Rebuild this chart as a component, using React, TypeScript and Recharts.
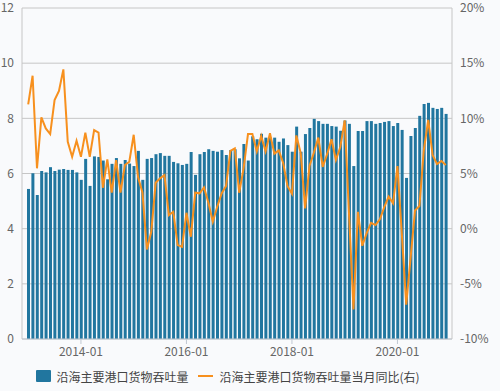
import {
  ComposedChart,
  Bar,
  Line,
  XAxis,
  YAxis,
  CartesianGrid,
  Legend,
} from 'recharts';

// monthly, 2013-01 .. 2020-12
const throughput = [
  5.44, 6.01, 5.22, 6.09, 6.04, 6.23, 6.09, 6.14, 6.16, 6.13, 6.13, 6.04,
  5.77, 6.53, 5.55, 6.62, 6.6, 6.47, 5.79, 6.35, 6.56, 6.35, 6.49, 6.36,
  6.27, 6.82, 5.77, 6.53, 6.56, 6.7, 6.74, 6.64, 6.64, 6.42, 6.37, 6.31,
  6.35, 6.78, 5.95, 6.7, 6.78, 6.88, 6.82, 6.79, 6.85, 6.67, 6.85, 6.88,
  6.55, 7.07, 6.47, 7.35, 7.24, 7.44, 7.3, 7.3, 7.3, 7.15, 7.27, 7.03,
  6.79, 7.7, 6.79, 7.43, 7.65, 7.98, 7.9, 7.8, 7.8, 7.72, 7.7, 7.55,
  7.92, 7.8, 6.27, 7.54, 7.54, 7.9, 7.9, 7.8, 7.83, 7.87, 7.9, 7.72,
  7.83, 7.58, 5.84, 7.36, 7.65, 8.09, 8.52, 8.56, 8.38, 8.34, 8.38, 8.16,
];

const yoy = [
  11.27, 13.86, 5.47, 10.09, 9.09, 8.58, 11.66, 12.48, 14.44, 7.88, 6.52, 7.97,
  6.52, 8.7, 6.52, 8.94, 8.7, 3.71, 6.28, 3.26, 6.22, 3.26, 5.77, 6.07,
  8.51, 4.65, 3.26, -1.88, -0.28, 4.16, 4.56, 4.86, 1.23, 1.53, -1.49, -1.64,
  1.44, -0.73, 3.26, 3.2, 3.74, 2.35, 0.63, 1.99, 3.2, 3.86, 7.06, 7.28,
  3.26, 5.47, 8.58, 8.58, 7.0, 8.4, 7.0, 8.65, 6.8, 7.1, 5.95, 3.85,
  3.17, 8.45, 6.85, 1.84, 5.68, 6.9, 8.25, 5.6, 6.75, 8.1, 6.22, 7.4,
  9.82, 1.2, -7.32, 1.53, -1.55, -0.4, 0.53, 0.33, 0.85, 1.95, 2.9, 2.3,
  5.68, -0.5, -6.88, -2.6, 1.65, 2.05, 7.13, 9.85, 6.67, 5.86, 6.13, 5.77,
];

const xTicks = ['2014-01', '2016-01', '2018-01', '2020-01'];
const leftTicks = [0, 2, 4, 6, 8, 10, 12];
const rightTicks = [-10, -5, 0, 5, 10, 15, 20];

const months = throughput.map((_, i) => {
  const y = 2013 + Math.floor(i / 12);
  const m = (i % 12) + 1;
  return `${y}-${m < 10 ? '0' + m : m}`;
});

const data = months.map((month, i) => ({
  month,
  throughput: throughput[i],
  yoy: yoy[i],
}));

const BAR = '#21769f';
const LINE = '#f7901e';
const FONT = '"Noto Sans CJK SC", "Noto Sans", sans-serif';

function LegendBox() {
  return (
    <div
      style={{
        display: 'flex',
        justifyContent: 'center',
        alignItems: 'center',
        fontSize: 12,
        color: '#444',
        fontFamily: FONT,
        height: 26,
        paddingRight: 44,
      }}
    >
      <span style={{ width: 15, height: 12, background: BAR, marginRight: 5, borderRadius: 1 }} />
      <span style={{ marginRight: 10 }}>沿海主要港口货物吞吐量</span>
      <span style={{ width: 15, height: 2, background: LINE, marginRight: 6 }} />
      <span>沿海主要港口货物吞吐量当月同比(右)</span>
    </div>
  );
}

export default function App() {
  return (
    <div style={{ position: 'absolute', left: 0, top: 0, width: 500, height: 391, background: '#f9fafc' }}>
      <ComposedChart
        width={500}
        height={391}
        data={data}
        margin={{ top: 8, right: 0, bottom: 0, left: 0 }}
      >
        <CartesianGrid vertical={false} stroke="#c6c6c6" yAxisId="left" />
        <XAxis
          dataKey="month"
          ticks={xTicks}
          interval={0}
          padding={{ left: 4, right: 4 }}
          height={24}
          tickSize={5}
          tickMargin={3}
          stroke="#c0c8d2"
          tick={{ fill: '#666', fontSize: 12, fontFamily: FONT }}
        />
        <YAxis
          yAxisId="left"
          width={22}
          domain={[0, 12]}
          ticks={leftTicks}
          interval={0}
          tickLine={false}
          stroke="#c6c6c6"
          tick={{ fill: '#666', fontSize: 12, fontFamily: FONT }}
        />
        <YAxis
          yAxisId="right"
          orientation="right"
          width={48}
          domain={[-10, 20]}
          ticks={rightTicks}
          interval={0}
          tickLine={false}
          stroke="#c6c6c6"
          tickFormatter={(v) => `${v}%`}
          tick={{ fill: '#666', fontSize: 12, fontFamily: FONT }}
        />
        <Legend verticalAlign="bottom" height={28} content={() => <LegendBox />} />
        <Bar
          yAxisId="left"
          dataKey="throughput"
          fill={BAR}
          barSize={3}
          isAnimationActive={false}
        />
        <Line
          yAxisId="right"
          dataKey="yoy"
          stroke={LINE}
          strokeWidth={2}
          dot={false}
          activeDot={false}
          type="linear"
          isAnimationActive={false}
        />
      </ComposedChart>
    </div>
  );
}
